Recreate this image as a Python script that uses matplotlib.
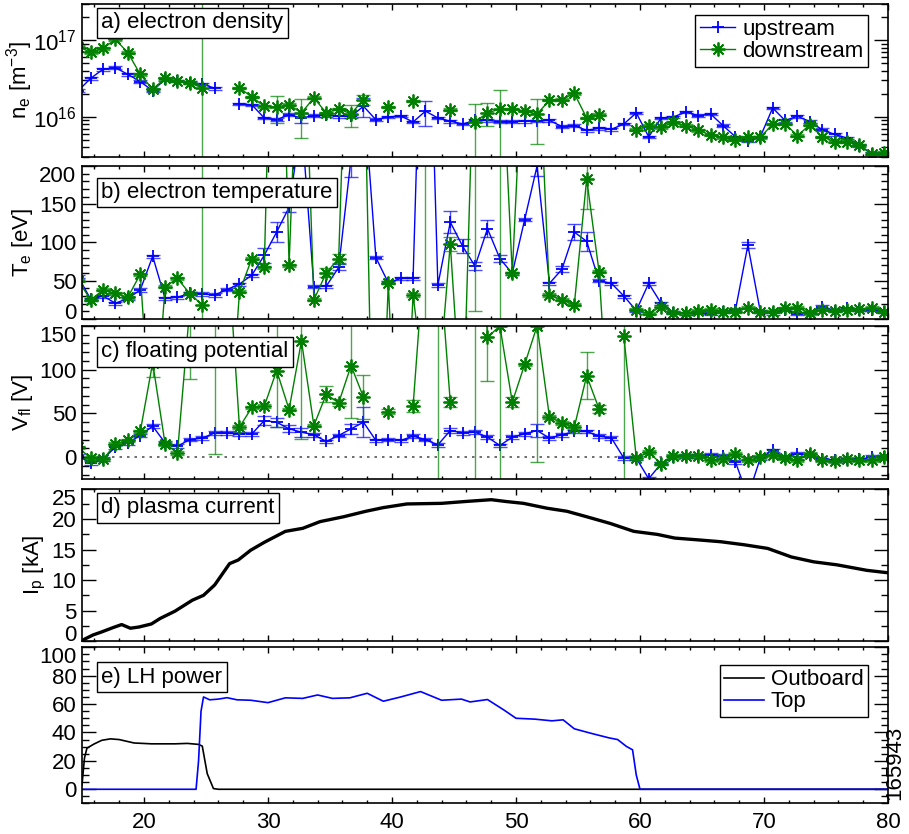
import numpy as np
import matplotlib
matplotlib.use("Agg")
import matplotlib.pyplot as plt
from matplotlib.ticker import MultipleLocator, LogLocator, NullFormatter

nan = np.nan

# probe sample times [ms]
t_probe = [14.7, 15.7, 16.7, 17.7, 18.7, 19.7, 20.7, 21.7, 22.7, 23.7,
           24.7, 25.7, 26.7, 27.7, 28.7, 29.7, 30.7, 31.7, 32.7, 33.7,
           34.7, 35.7, 36.7, 37.7, 38.7, 39.7, 40.7, 41.7, 42.7, 43.7,
           44.7, 45.7, 46.7, 47.7, 48.7, 49.7, 50.7, 51.7, 52.7, 53.7,
           54.7, 55.7, 56.7, 57.7, 58.7, 59.7, 60.7, 61.7, 62.7, 63.7,
           64.7, 65.7, 66.7, 67.7, 68.7, 69.7, 70.7, 71.7, 72.7, 73.7,
           74.7, 75.7, 76.7, 77.7, 78.7, 79.7]

# a) electron density [1e16 m^-3]
ne_up = [2.2, 3.2, 4.2, 4.4, 3.6, 2.9, 2.2, 3.1, 2.95, 2.8,
         2.7, 2.37, nan, 1.48, 1.44, 0.97, 0.92, 1.07, 0.97, 1.04,
         1.05, 1.02, 1.02, 1.38, 0.92, 1.0, 1.03, 0.86, 1.19, 0.97,
         0.88, 0.81, 0.90, 0.90, 0.87, 0.87, 0.88, 0.89, 0.90, 0.75,
         0.77, 0.67, 0.71, 0.69, 0.81, 1.13, 0.55, 0.97, 1.0, 1.16,
         1.04, 1.09, 0.77, 0.55, 0.49, 0.55, 1.31, 0.90, 1.02, 0.87,
         0.68, 0.59, 0.53, 0.42, 0.33, 0.33]
ne_down = [8.3, 7.0, 7.9, 10.3, 6.9, 3.6, 2.3, 3.2, 2.95, 2.8,
           2.4, nan, nan, 2.4, 1.82, 1.38, 1.35, 1.45, 1.13, 1.78,
           1.13, 1.27, 1.1, 1.69, nan, 1.35, nan, 1.61, nan, nan,
           1.25, nan, 0.87, 1.13, 1.27, 1.27, 1.2, 1.09, 1.66, 1.69,
           2.03, 0.97, 1.07, nan, nan, 0.68, 0.77, 0.73, 0.85, 0.77,
           0.67, 0.58, 0.54, 0.50, 0.55, 0.54, 0.81, 0.81, 0.57, 0.79,
           0.55, 0.475, 0.475, 0.43, 0.33, 0.34]
ne_up_err = {32.7: 0.14, 37.7: 0.38, 42.7: 0.42}
ne_down_err = {24.7: 100.0, 30.7: 0.52, 32.7: 0.6, 36.7: 0.35, 37.7: 0.25,
               46.7: 0.6, 47.7: 0.37, 48.7: 1.0, 51.7: 0.65}

# b) electron temperature [eV]
te_up = [55, 25.8, 30, 20.6, 27, 37.9, 82, 27, 28.4, 33.6,
         32.7, 31.4, 38.5, 45.7, 57.4, 83.3, 113.7, 146, 260, 42.3,
         43, 67.4, 210, 300, 80.3, 47.4, 53, 53, 600, 44.4,
         126.6, 95, 69, 118, 79, 59.6, 130, 200, 46.6, 64.8,
         113.6, 101.5, 50, 46.6, 30, 11, 46.6, 20.6, 8.5, 7.6,
         8.5, 6.8, 9.8, 12, 96.4, 9.8, 7.6, 12, 6.8, 8.5,
         16.3, 11, 14, 12, 12, 9.8]
te_down = [50, 25, 38, 33.6, 28.4, 58.7, -180, 42, 53, 33,
           18.4, nan, -200, 35.7, 79, 67.4, 700, 70.2, 500, 25,
           60.4, 79, 575, 400, -400, 47.4, -300, 31.4, -100, -100,
           98.5, -150, 400, 400, 400, 59.6, 400, 400, 31.4, 25,
           18.4, 183, 61.7, -200, nan, 12, 7, 16, 8, 7.6,
           11, 12, 9.8, 9.8, 15, 9.8, 9.8, 14, 15, 7.6,
           12, 11, 12, 12.5, 15, 9.8]
te_up_err = {29.7: 10, 30.7: 13, 31.7: 6, 35.7: 4, 36.7: 24, 44.7: 14,
             45.7: 9, 46.7: 5, 47.7: 11, 48.7: 4, 51.7: 13, 53.7: 4,
             54.7: 11, 55.7: 12, 68.7: 4}
te_down_err = {24.7: 500, 34.7: 6, 35.7: 6, 42.7: 500, 44.7: 9,
               46.7: 390, 48.7: 500, 55.7: 39}

# c) floating potential [V]
vf_up = [1, -6.5, -2, 11.4, 16.3, 24.7, 35.4, 16.3, 12.5, 20.1,
         21.7, 27.7, 27.3, 26.6, 26.6, 41.8, 39.9, 32.3, 28.5, 25.5,
         17.9, 24.7, 32.3, 39.9, 19, 20.1, 19, 24, 20, 14,
         30.4, 27.7, 28.5, 22.8, 13.3, 22.8, 26.6, 30.4, 21.7, 25.5,
         29.3, 29.3, 24, 21.7, -1.2, -1.2, -24.7, -7.6, 0, 1.1,
         1.1, 2.6, 1.1, -5.7, -45, -1.2, 7.6, 0, 3.8, 2.6,
         -2.7, -3.8, -2.7, -2.7, 0, 0]
vf_down = [11, -1.2, -2.7, 15.2, 19, 29.3, 108, 15.2, 4.9, 172,
           250, 200, 250, 34.2, 57, 58.2, 99, 54.4, 133, 36,
           72, 62, 104.6, 68.5, nan, 52, nan, 58.2, 250, 250,
           62.8, nan, 400, 137, 150, 62.8, 106, 150, 45.7, 39.2,
           34.2, 93, 55, nan, 138, -1.2, 5.7, -7.6, 1.1, 1.1,
           1.1, -3.8, -1.9, 3.8, -3.8, 0, 1.9, -1.2, -3.8, 3.8,
           -3.8, -4.9, -1.9, -3.8, -3.8, 0]
vf_up_err = {29.7: 5, 30.7: 5, 31.7: 4.5, 32.7: 5.5, 36.7: 6, 37.7: 17,
             44.7: 3, 51.7: 7.5}
vf_down_err = {20.7: 16, 23.7: 83, 25.7: 196, 30.7: 65, 32.7: 112,
               34.7: 9.5, 35.7: 4.5, 36.7: 60, 37.7: 25, 39.7: 3, 41.7: 7,
               43.7: 400, 44.7: 6, 46.7: 500, 47.7: 50, 48.7: 300,
               49.7: 6, 51.7: 156, 55.7: 27, 56.7: 5, 58.7: 300}

# d) plasma current [kA]
t_ip = [15.0, 15.2, 15.9, 16.6, 17.5, 18.2, 18.9, 19.6, 20.6, 21.3,
        22.5, 23.9, 24.8, 25.7, 26.9, 27.6, 28.6, 29.7, 31.4, 32.8,
        34.2, 36.1, 37.9, 39.3, 41.2, 44.0, 45.9, 48.0, 49.2, 50.6,
        52.5, 54.1, 55.7, 57.6, 59.5, 61.4, 62.8, 64.7, 66.5, 68.4,
        70.3, 72.2, 74.0, 75.9, 78.3, 80.0]
ip = [0.0, 0.3, 1.0, 1.5, 2.2, 2.7, 2.1, 2.3, 2.8, 3.7,
      4.9, 6.7, 7.5, 9.2, 12.7, 13.3, 14.9, 16.2, 18.0, 18.5,
      19.6, 20.4, 21.3, 21.9, 22.5, 22.6, 22.9, 23.2, 22.9, 22.6,
      21.8, 21.3, 20.4, 19.3, 18.0, 17.5, 16.9, 16.6, 16.3, 15.8,
      15.2, 13.8, 13.0, 12.5, 11.6, 11.2]

# e) LH power [kW]
t_outboard = [15.0, 15.2, 15.4, 16.0, 16.6, 17.3, 18.0, 19.2, 20.6, 22.5,
              23.5, 24.4, 24.7, 25.1, 25.6, 26.0, 80.0]
p_outboard = [3, 22, 29, 32, 34.5, 35.5, 35, 32.6, 32, 32,
              32.3, 31.6, 30.4, 11, 0.5, 0, 0]
t_top = [15.0, 24.2, 24.4, 24.6, 24.8, 25.3, 26.0, 26.7, 27.5, 28.6,
         30.0, 31.4, 32.8, 34.0, 35.2, 36.6, 38.0, 39.3, 40.7, 42.3,
         44.0, 45.6, 46.3, 47.7, 49.1, 50.0, 51.5, 52.9, 53.8, 54.7,
         56.1, 57.5, 58.2, 58.9, 59.4, 59.7, 60.0, 80.0]
p_top = [0, 0, 20, 55, 65, 63, 63.5, 64.5, 63, 62.7,
         61, 64.4, 64, 66.4, 64, 64.4, 67.6, 62, 65, 68.8,
         62.7, 63.5, 61.5, 63.2, 55.4, 50, 49.4, 48.2, 48.9, 42.6,
         39.3, 36.2, 35, 30.2, 27.8, 10, 0, 0]

BLUE = "#0000ff"
GREEN = "#008000"

plt.rcParams["font.family"] = ["Liberation Sans", "DejaVu Sans"]
plt.rcParams["font.size"] = 16
plt.rcParams["mathtext.fontset"] = "custom"
plt.rcParams["mathtext.rm"] = "Liberation Sans"
plt.rcParams["mathtext.it"] = "Liberation Sans:italic"
plt.rcParams["mathtext.default"] = "regular"
plt.rcParams["axes.linewidth"] = 1.2


def err_array(values, special, default, relative=False):
    vals = np.asarray(values, dtype=float)
    err = np.abs(vals) * default if relative else np.full(len(vals), default)
    for t, e in special.items():
        err[t_probe.index(t)] = e
    return err


def draw_series(ax, y, err, color, marker, ms, label, log=False):
    y = np.asarray(y, dtype=float)
    lo = np.minimum(err, 0.999 * y) if log else err
    ax.errorbar(t_probe, y, yerr=[lo, err], fmt="none", ecolor=color,
                elinewidth=1.0, capsize=5, capthick=1.0, alpha=0.7)
    ax.plot(t_probe, y, color=color, lw=1.0, marker=marker, ms=ms,
            mew=1.3, label=label)


def style_axis(ax):
    ax.set_xlim(15, 80)
    ax.xaxis.set_major_locator(MultipleLocator(10))
    ax.xaxis.set_minor_locator(MultipleLocator(2))
    ax.tick_params(which="both", direction="in", top=True, right=True,
                   width=1.0)
    ax.tick_params(axis="x", which="major", length=4.5, pad=6)
    ax.tick_params(axis="x", which="minor", length=2.2)
    ax.tick_params(axis="y", which="major", length=10, pad=4)
    ax.tick_params(axis="y", which="minor", length=5)


def panel_label(ax, text, ytop):
    ax.text(0.024, ytop, text, transform=ax.transAxes, ha="left", va="top",
            fontsize=16, zorder=10,
            bbox=dict(boxstyle="square,pad=0.2", facecolor="white",
                      edgecolor="black", linewidth=1.0))


def squeeze_end_labels(ax, ticks):
    labels = ax.get_yticklabels()
    lo, hi = ax.get_ylim()
    for lab, t in zip(labels, ticks):
        if np.isclose(t, hi):
            lab.set_va("top")
        elif np.isclose(t, lo):
            lab.set_va("baseline")


fig = plt.figure(figsize=(9.09, 8.34), dpi=100)
left, width = 0.0902, 0.8867
ax_a = fig.add_axes([left, 0.8118, width, 0.1835])
ax_b = fig.add_axes([left, 0.6175, width, 0.1835])
ax_c = fig.add_axes([left, 0.4257, width, 0.1835])
ax_d = fig.add_axes([left, 0.2314, width, 0.1826])
ax_e = fig.add_axes([left, 0.0366, width, 0.1873])

# a) electron density
scale = 1e16
ax_a.set_yscale("log")
draw_series(ax_a, np.array(ne_up) * scale,
            err_array(ne_up, ne_up_err, 0.04, relative=True) * scale,
            BLUE, "+", 9, "upstream", log=True)
draw_series(ax_a, np.array(ne_down) * scale,
            err_array(ne_down, ne_down_err, 0.04, relative=True) * scale,
            GREEN, (8, 2, 0), 10, "downstream", log=True)
ax_a.set_ylim(3e15, 3e17)
ax_a.yaxis.set_major_locator(LogLocator(base=10))
ax_a.yaxis.set_minor_locator(LogLocator(base=10, subs=np.arange(2, 10)))
ax_a.yaxis.set_minor_formatter(NullFormatter())
ax_a.set_ylabel("n$_e$ [m$^{-3}$]")
ax_a.legend(loc="upper right", bbox_to_anchor=(0.975, 0.93), borderaxespad=0,
            fancybox=False, edgecolor="black", framealpha=1, numpoints=1,
            handlelength=1.6, handletextpad=0.3, labelspacing=0.05,
            borderpad=0.2, fontsize=16).get_frame().set_linewidth(1.0)
panel_label(ax_a, "a) electron density", 0.945)

# b) electron temperature
draw_series(ax_b, te_up, err_array(te_up, te_up_err, 2), BLUE, "+", 9, None)
draw_series(ax_b, te_down, err_array(te_down, te_down_err, 2), GREEN,
            (8, 2, 0), 10, None)
ax_b.set_ylim(0, 200)
b_ticks = [0, 50, 100, 150, 200]
ax_b.set_yticks(b_ticks)
ax_b.yaxis.set_minor_locator(MultipleLocator(10))
ax_b.set_ylabel("T$_e$ [eV]")
panel_label(ax_b, "b) electron temperature", 0.895)

# c) floating potential
ax_c.axhline(0, color="#555555", lw=1.2, ls=(0, (1.5, 3)), zorder=0)
draw_series(ax_c, vf_up, err_array(vf_up, vf_up_err, 2), BLUE, "+", 9, None)
draw_series(ax_c, vf_down, err_array(vf_down, vf_down_err, 2), GREEN,
            (8, 2, 0), 10, None)
ax_c.set_ylim(-25, 150)
c_ticks = [0, 50, 100, 150]
ax_c.set_yticks(c_ticks)
ax_c.yaxis.set_minor_locator(MultipleLocator(10))
ax_c.set_ylabel("V$_{fl}$ [V]")
panel_label(ax_c, "c) floating potential", 0.900)

# d) plasma current
ax_d.plot(t_ip, ip, color="black", lw=2.4)
ax_d.set_ylim(0, 25)
d_ticks = [0, 5, 10, 15, 20, 25]
ax_d.set_yticks(d_ticks)
ax_d.yaxis.set_minor_locator(MultipleLocator(2.5))
ax_d.set_ylabel("I$_p$ [kA]")
panel_label(ax_d, "d) plasma current", 0.945)

# e) LH power
ax_e.plot(t_outboard, p_outboard, color="black", lw=1.2, label="Outboard")
ax_e.plot(t_top, p_top, color=BLUE, lw=1.2, label="Top")
ax_e.set_ylim(-10, 100)
e_ticks = [0, 20, 40, 60, 80, 100]
ax_e.set_yticks(e_ticks)
ax_e.yaxis.set_minor_locator(MultipleLocator(5))
ax_e.legend(loc="upper right", bbox_to_anchor=(0.975, 0.887), borderaxespad=0,
            fancybox=False, edgecolor="black", framealpha=1,
            handlelength=1.8, handletextpad=0.3, labelspacing=0.05,
            borderpad=0.2, fontsize=16).get_frame().set_linewidth(1.0)
panel_label(ax_e, "e) LH power", 0.875)

for ax in (ax_a, ax_b, ax_c, ax_d, ax_e):
    style_axis(ax)
for ax in (ax_a, ax_b, ax_c, ax_d):
    ax.tick_params(axis="x", labelbottom=False)

# y titles sit just left of the tick labels, as in the original
ax_a.yaxis.set_label_coords(-0.058, 0.5)
ax_b.yaxis.set_label_coords(-0.058, 0.5)
ax_c.yaxis.set_label_coords(-0.058, 0.5)
ax_d.yaxis.set_label_coords(-0.042, 0.5)

squeeze_end_labels(ax_b, b_ticks)
squeeze_end_labels(ax_c, c_ticks)
squeeze_end_labels(ax_d, d_ticks)
squeeze_end_labels(ax_e, e_ticks)

# shot number along the right edge
fig.text(0.9846, 0.0408, "165943", rotation=90, ha="center", va="bottom",
         fontsize=16)

fig.savefig("out.png", dpi=100)
